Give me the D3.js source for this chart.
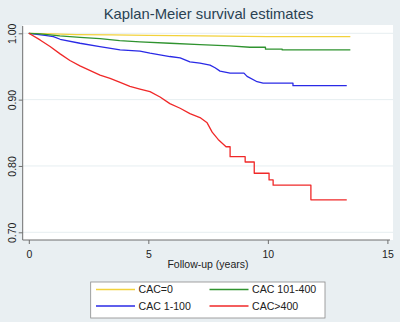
<!DOCTYPE html>
<html><head><meta charset="utf-8">
<script src="https://cdn.jsdelivr.net/npm/d3@7"></script>
<style>
html,body{margin:0;padding:0;background:#e9eff2;}
svg{display:block;font-family:"Liberation Sans",Arial,sans-serif;}
</style></head>
<body><svg id="c" width="400" height="322"></svg>
<script>
const title = "Kaplan-Meier survival estimates";
const xLabel = "Follow-up (years)";
const xTicks = [0, 5, 10, 15];
const yTicks = [0.70, 0.80, 0.90, 1.00];
const seriesNames = ["CAC=0", "CAC 1-100", "CAC 101-400", "CAC>400"];
const seriesColors = ["#f2d23c", "#2a2ae6", "#2f932f", "#f02828"];

// [time, survival]
const cac0 = [[0,1],[1,0.999],[2,0.998],[3.5,0.9975],[5,0.997],[7.2,0.996],[10,0.995],[13.45,0.995]];
const cac1_100 = [[0,1],[0.68,0.997],[1.03,0.995],[1.31,0.991],[2.14,0.985],[2.97,0.98],[3.82,0.975],[4.65,0.973],[5.07,0.97],[5.9,0.965],[6.33,0.963],[6.74,0.957],[7.16,0.955],[7.58,0.952],[7.79,0.948],[8.0,0.943],[8.42,0.94],[9.0,0.94],[9.13,0.935],[9.55,0.927],[9.8,0.925],[11.05,0.925],[11.05,0.921],[13.3,0.921]];
const cac101_400 = [[0,1],[0.47,0.999],[1.3,0.996],[2.14,0.994],[2.98,0.992],[3.8,0.989],[4.65,0.987],[5.9,0.985],[7.16,0.983],[8.4,0.981],[9.25,0.979],[9.9,0.979],[9.9,0.976],[10.6,0.976],[10.6,0.975],[13.45,0.975]];
const cac400 = [[0,1],[0.47,0.99],[0.89,0.98],[1.31,0.969],[1.72,0.959],[2.14,0.951],[2.98,0.937],[3.4,0.932],[3.82,0.926],[4.23,0.92],[4.65,0.916],[5.07,0.912],[5.49,0.904],[5.9,0.894],[6.33,0.887],[6.74,0.879],[7.16,0.873],[7.46,0.865],[7.67,0.851],[7.92,0.84],[8.25,0.829],[8.42,0.829],[8.42,0.814],[9.05,0.814],[9.05,0.806],[9.43,0.806],[9.43,0.789],[10.05,0.789],[10.05,0.779],[10.22,0.779],[10.22,0.771],[11.8,0.771],[11.8,0.749],[13.3,0.749]];
const seriesData = [cac0, cac1_100, cac101_400, cac400];

const svg = d3.select("#c");
const L = {left: 22.7, right: 393, top: 25, bottom: 240};
const x = d3.scaleLinear().domain([0, 15]).range([28.8, 387.4]);
const y = d3.scaleLinear().domain([0.70, 1.00]).range([232.3, 33.3]);

// plot region
svg.append("rect").attr("x", L.left).attr("y", L.top)
  .attr("width", L.right - L.left).attr("height", L.bottom - L.top).attr("fill", "#ffffff");

// gridlines
svg.append("g").selectAll("line").data(yTicks).join("line")
  .attr("x1", L.left).attr("x2", L.right)
  .attr("y1", d => y(d)).attr("y2", d => y(d))
  .attr("stroke", "#e6eef1").attr("stroke-width", 1);

// title
svg.append("text").attr("x", 208.5).attr("y", 19).attr("text-anchor", "middle")
  .attr("font-size", 14.8).attr("fill", "#2a4252").text(title);

// axes
const axisColor = "#6e6e6e";
const gx = svg.append("g").attr("transform", `translate(0,${L.bottom})`)
  .call(d3.axisBottom(x).tickValues(xTicks).tickFormat(d3.format("d")).tickSize(4).tickSizeOuter(0));
gx.select(".domain").remove();
gx.selectAll("line").attr("stroke", axisColor);
gx.selectAll("text").attr("font-size", 10.5).attr("fill", "#222").attr("dy", "1.05em")
  .attr("font-family", "Liberation Sans, Arial, sans-serif");
svg.append("line").attr("x1", L.left).attr("x2", 390).attr("y1", L.bottom).attr("y2", L.bottom)
  .attr("stroke", axisColor).attr("stroke-width", 1);

const gy = svg.append("g").attr("transform", `translate(${L.left},0)`)
  .call(d3.axisLeft(y).tickValues(yTicks).tickFormat(d3.format(".2f")).tickSize(4).tickSizeOuter(0));
gy.select(".domain").remove();
gy.selectAll("line").attr("stroke", axisColor);
gy.selectAll("text").attr("font-size", 10.5).attr("fill", "#222")
  .attr("font-family", "Liberation Sans, Arial, sans-serif")
  .attr("text-anchor", "middle").attr("x", 0)
  .attr("transform", "translate(-10.5,0) rotate(-90)").attr("dy", "0.35em");
svg.append("line").attr("x1", L.left).attr("x2", L.left).attr("y1", 26).attr("y2", L.bottom)
  .attr("stroke", axisColor).attr("stroke-width", 1);

svg.append("text").attr("x", 208).attr("y", 268).attr("text-anchor", "middle")
  .attr("font-size", 10.5).attr("fill", "#222").text(xLabel);

// curves
const line = d3.line().x(d => x(d[0])).y(d => y(d[1])).curve(d3.curveLinear);
svg.append("g").selectAll("path").data(seriesData).join("path")
  .attr("d", line).attr("fill", "none")
  .attr("stroke", (d, i) => seriesColors[i]).attr("stroke-width", 1.3)
  .attr("stroke-linejoin", "round");

// legend
const lg = svg.append("g");
lg.append("rect").attr("x", 90.7).attr("y", 282).attr("width", 234.3).attr("height", 36)
  .attr("fill", "#ffffff").attr("stroke", "#8a8a8a").attr("stroke-width", 0.8);
const legendOrder = [0, 2, 1, 3];
legendOrder.forEach((si, k) => {
  const col = k % 2, row = Math.floor(k / 2);
  const lx = 96 + col * 113.5, ly = 289.5 + row * 16.5;
  lg.append("line").attr("x1", lx).attr("x2", lx + 39).attr("y1", ly).attr("y2", ly)
    .attr("stroke", seriesColors[si]).attr("stroke-width", 1.3);
  lg.append("text").attr("x", lx + 42.5).attr("y", ly).attr("dy", "0.35em")
    .attr("font-size", 10.6).attr("fill", "#222").text(seriesNames[si]);
});
</script></body></html>
